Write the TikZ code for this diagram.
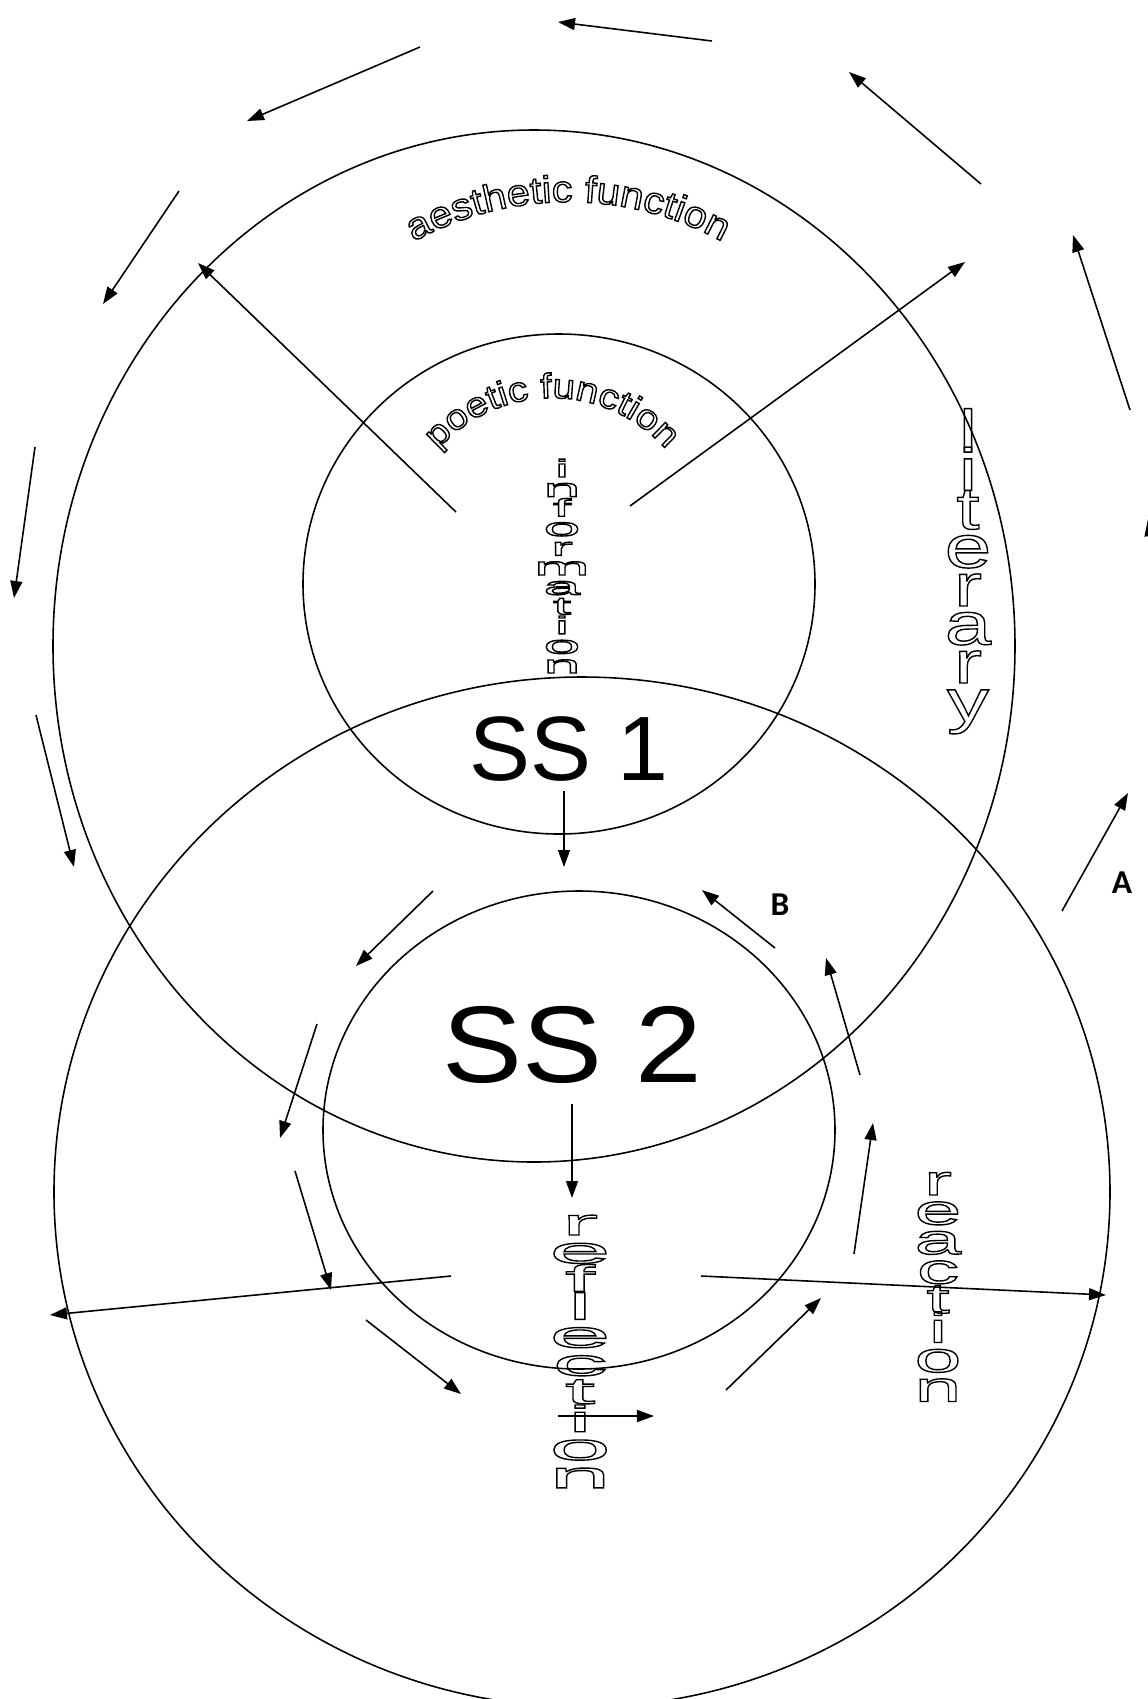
\documentclass[tikz,border=0pt]{standalone}
\usepackage{fontspec}
\setmainfont{Liberation Sans}
\usetikzlibrary{arrows.meta,decorations.text}
\newfontfamily\labfont{Carlito}
\newfontfamily\sstwofont[FakeStretch=1.1]{Liberation Sans}
\newfontfamily\curvefont[FakeStretch=1.1]{Liberation Sans}
\newfontfamily\poetfont[FakeStretch=1.15]{Liberation Sans}
\newfontfamily\infofont[FakeStretch=2.7]{Liberation Sans}
\newfontfamily\litfont[FakeStretch=1.4]{Liberation Sans}
\newfontfamily\reflfont[FakeStretch=3.0]{Liberation Sans}
\newfontfamily\reacfont[FakeStretch=2.0]{Liberation Sans}
% hollow letters (stroke only)
\newcommand{\outlon}{\special{pdf:literal direct 1 Tr}}
\newcommand{\outloff}{\special{pdf:literal direct 0 Tr}}

\begin{document}
\begin{tikzpicture}[x=0.01cm, y=-0.01cm,
    ring/.style={line width=0.45pt},
    flow/.style={line width=0.45pt, -{Triangle[length=1.7mm, width=1.2mm]}},
    ltr/.style={inner sep=0pt, anchor=base},
    infoltr/.style={ltr, font=\infofont\fontsize{7}{7}\selectfont\outlon},
    litltr/.style={ltr, font=\litfont\fontsize{17}{17}\selectfont\outlon},
    reflltr/.style={ltr, font=\reflfont\fontsize{10.5}{11}\selectfont\outlon},
    reacltr/.style={ltr, font=\reacfont\fontsize{12}{12}\selectfont\outlon},
    sslabel/.style={inner sep=0pt, anchor=base},
    letterlabel/.style={inner sep=0pt, font=\labfont\bfseries\fontsize{9.5}{10}\selectfont\outloff}
]
    \useasboundingbox (0,0) rectangle (1148,1699);

    % the four circles
    \draw[ring] (534,646) ellipse [x radius=481, y radius=516];
    \draw[ring] (559,584) ellipse [x radius=256, y radius=250];
    \draw[ring] (582,1192) ellipse [x radius=528, y radius=515];
    \draw[ring] (579,1130) ellipse [x radius=256, y radius=239];

    % curved labels
    \path[decorate, decoration={text along path, text align=center,
        text={|\curvefont\fontsize{10.7}{12}\selectfont\outlon|aesthetic function}}]
        (568,522) ++(210:320) arc[start angle=210, end angle=330, radius=320];
    \path[decorate, decoration={text along path, text align=center,
        text={|\poetfont\fontsize{9.9}{11}\selectfont\outlon|poetic function}}]
        (552,550) ++(200:152) arc[start angle=200, end angle=340, radius=152];

    % stacked labels
    \foreach \ch [count=\k from 0] in {i,n,f,o,r,m,a,t,i,o,n}
        \node[infoltr] (info\k) at (562,477+19.6*\k) {\ch};
    \foreach \ch [count=\k from 0] in {l,i,t,e,r,a,r,y}
        \node[litltr] (lit\k) at (968,452+38.5*\k) {\ch};
    \foreach \ch [count=\k from 0] in {r,e,f,l,e,c,t,i,o,n}
        \node[reflltr] (refl\k) at (580,1235+28.1*\k) {\ch};
    \foreach \ch [count=\k from 0] in {r,e,a,c,t,i,o,n}
        \node[reacltr] (reac\k) at (938,1195+29.5*\k) {\ch};

    \node[sslabel, font=\fontsize{26}{28}\selectfont\outloff] (ss1) at (569,780) {SS 1};
    \node[sslabel, font=\sstwofont\fontsize{31}{33}\selectfont\outloff] (ss2) at (572,1082) {SS 2};
    \node[letterlabel] (labA) at (1122,883) {A};
    \node[letterlabel] (labB) at (780,905) {B};

    % outer ring of arrows
    \foreach \xa/\ya/\xb/\yb in {712/41/558/22, 420/47/247/121, 179/191/103/304,
        35/447/14/598, 36/715/74/867, 981/184/849/72,
        1130/410/1073/235, 1166/640/1148/519, 1062/911/1128/793}
        \draw[flow] (\xa,\ya) -- (\xb,\yb);

    % arrows inside
    \foreach \xa/\ya/\xb/\yb in {456/512/198/263, 630/506/965/262, 564/791/564/867,
        775/948/702/890, 433/891/356/966, 317/1024/280/1138,
        295/1171/331/1290, 366/1320/461/1394, 558/1416/654/1416,
        726/1390/821/1298, 854/1254/873/1123, 860/1075/826/958,
        572/1104/572/1198, 451/1276/50/1315, 701/1276/1106/1295}
        \draw[flow] (\xa,\ya) -- (\xb,\yb);
\end{tikzpicture}
\end{document}
